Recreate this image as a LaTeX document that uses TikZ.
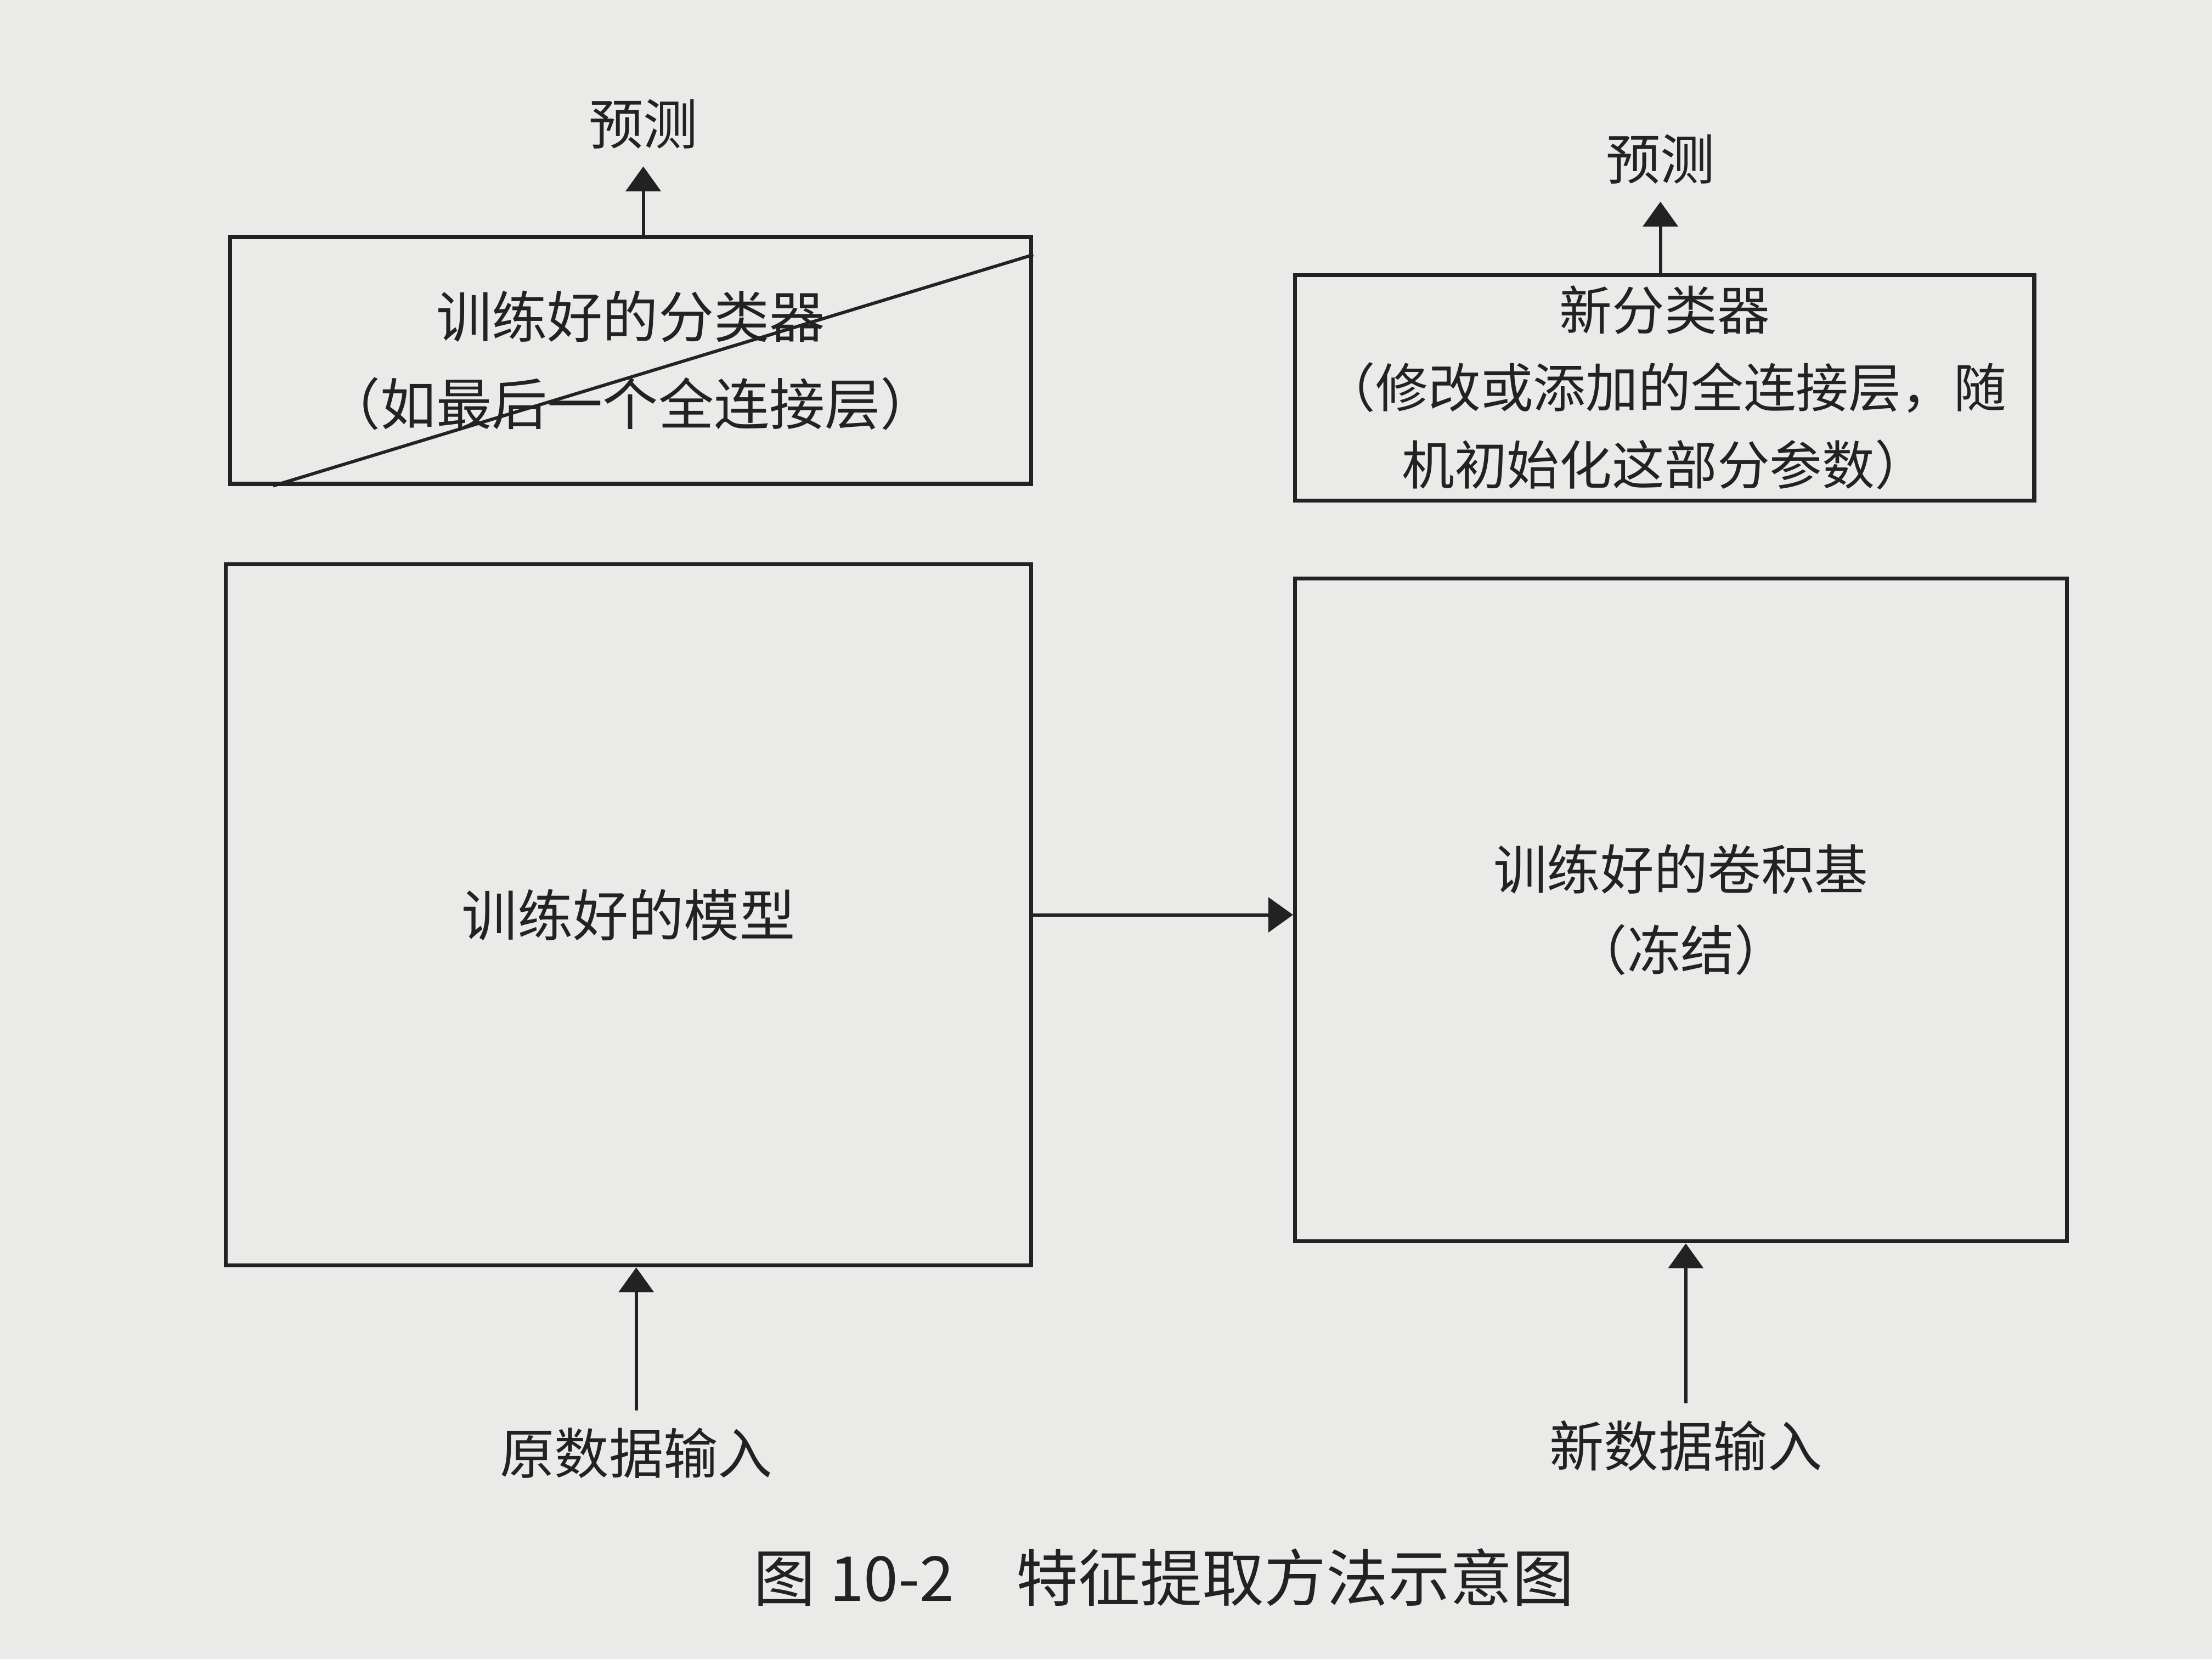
\documentclass[tikz,border=0pt]{standalone}
\usepackage{fontspec}
\usepackage{xcolor}
\usepackage{tikz}
\usetikzlibrary{calc,positioning,arrows.meta}
\newfontfamily\cjk{Noto Sans CJK SC}
\definecolor{Page}{HTML}{EAEAE8}
\definecolor{Ink}{HTML}{222222}

\tikzset{
  block/.style={rectangle,draw=Ink,line width=.8pt,text=Ink,align=center,inner sep=0pt},
  label/.style={text=Ink,font=\cjk\fontsize{11}{17}\selectfont},
  flow/.style={-{Triangle[length=5pt,width=7pt]},draw=Ink,line width=.65pt}
}

\begin{document}
\begin{tikzpicture}[x=1cm,y=1cm]
\fill[Page] (0,0) rectangle (15.68,-11.76);
\useasboundingbox (0,0) rectangle (15.68,-11.76);
% left column: trained network
\node[block,minimum width=5.68cm,minimum height=1.75cm,font=\cjk\fontsize{11.2}{17.6}\selectfont] (oldcls) at (4.47,-2.555) {训练好的分类器\\（如最后一个全连接层）};
\node[block,minimum width=5.71cm,minimum height=4.97cm,font=\cjk\fontsize{11.2}{17}\selectfont] (model) at (4.455,-6.485) {训练好的模型};
\draw[Ink,line width=.65pt] ($(oldcls.south west)+(0.32,0)$)--($(oldcls.north east)+(0,-0.14)$);
% right column: reused base
\node[block,minimum width=5.24cm,minimum height=1.60cm,font=\cjk\fontsize{10.6}{15.6}\selectfont] (newcls) at (11.80,-2.75) {新分类器\\（修改或添加的全连接层，随\\机初始化这部分参数）};
\node[block,minimum width=5.47cm,minimum height=4.70cm,font=\cjk\fontsize{10.8}{16.2}\selectfont] (base) at (11.915,-6.45) {训练好的卷积基\\（冻结）};
% outputs and inputs
\node[label] (predL) at (4.56,-0.88) {预测};
\node[label] (predR) at (11.77,-1.13) {预测};
\node[label] (inL) at (4.51,-10.30) {原数据输入};
\node[label] (inR) at (11.95,-10.25) {新数据输入};
\draw[flow] (oldcls.north -| predL)--(predL.south);
\draw[flow] (newcls.north -| predR)--(predR.south);
\draw[flow] (inL.north)--(inL.north |- model.south);
\draw[flow] (inR.north)--(inR.north |- base.south);
\draw[flow] (model.east)--(model.east -| base.west);
% caption
\node[text=Ink,font=\cjk\fontsize{12.5}{15}\selectfont] (caption) at (8.25,-11.18) {图 10-2\quad 特征提取方法示意图};
\end{tikzpicture}
\end{document}
